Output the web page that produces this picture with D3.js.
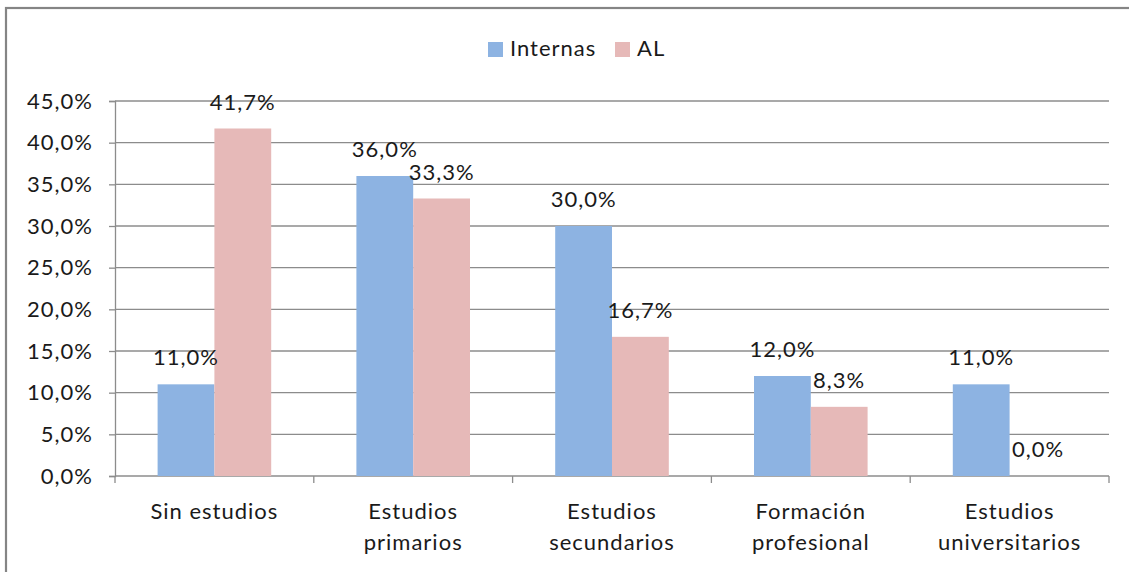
<!DOCTYPE html>
<html>
<head>
<meta charset="utf-8">
<script src="https://cdn.jsdelivr.net/npm/d3@7"></script>
<style>
  html, body { margin: 0; padding: 0; background: #fff; }
  svg { display: block; }
  text { font-family: "Lato", "Open Sans", sans-serif; fill: #1a1a1a; letter-spacing: 1px; }
</style>
</head>
<body>
<svg id="chart" width="1129" height="572"></svg>
<script>
// Education level of the two groups (percent)
const categories = [
  ["Sin estudios"],
  ["Estudios", "primarios"],
  ["Estudios", "secundarios"],
  ["Formación", "profesional"],
  ["Estudios", "universitarios"]
];
const seriesNames = ["Internas", "AL"];
const internas = [11.0, 36.0, 30.0, 12.0, 11.0];
const al = [41.7, 33.3, 16.7, 8.3, 0.0];
const yTicks = [0, 5, 10, 15, 20, 25, 30, 35, 40, 45];
const colors = ["#8db3e2", "#e6b9b8"];

const fmt = v => v.toFixed(1).replace(".", ",") + "%";
const FS = 22;

const svg = d3.select("#chart");
const W = 1129, H = 572;
const plot = { left: 115, right: 1109, top: 101, bottom: 476 };

// Outer chart frame
svg.append("rect")
  .attr("x", 6).attr("y", 8)
  .attr("width", W + 20).attr("height", H + 20)
  .attr("fill", "none").attr("stroke", "#858585").attr("stroke-width", 2.2);

const x0 = d3.scaleBand()
  .domain(d3.range(categories.length))
  .range([plot.left, plot.right])
  .paddingInner(0).paddingOuter(0);

// 150% gap between groups
const groupW = x0.bandwidth() / 3.5 * 2;
const x1 = d3.scaleBand()
  .domain(seriesNames)
  .range([0, groupW]);

const y = d3.scaleLinear().domain([0, 45]).range([plot.bottom, plot.top]);

// Horizontal gridlines
svg.append("g")
  .selectAll("line")
  .data(yTicks.filter(t => t > 0))
  .join("line")
  .attr("x1", plot.left).attr("x2", plot.right)
  .attr("y1", d => y(d)).attr("y2", d => y(d))
  .attr("stroke", "#8c8c8c").attr("stroke-width", 1.3);

// Y axis
const yAxis = svg.append("g")
  .attr("transform", `translate(${plot.left},0)`)
  .call(d3.axisLeft(y).tickValues(yTicks).tickFormat(fmt).tickSize(6).tickPadding(16));
yAxis.select(".domain").attr("stroke", "#8c8c8c").attr("stroke-width", 1.3);
yAxis.selectAll(".tick line").attr("stroke", "#8c8c8c").attr("stroke-width", 1.3);
yAxis.selectAll(".tick text")
  .attr("font-size", FS).attr("font-family", "Lato").attr("fill", "#1a1a1a");

// X axis baseline with boundary ticks
const xAxisG = svg.append("g");
xAxisG.append("line")
  .attr("x1", plot.left).attr("x2", plot.right)
  .attr("y1", plot.bottom).attr("y2", plot.bottom)
  .attr("stroke", "#8c8c8c").attr("stroke-width", 1.3);
const bounds = d3.range(categories.length + 1).map(i =>
  i < categories.length ? x0(i) : x0(categories.length - 1) + x0.bandwidth());
xAxisG.selectAll("line.tk")
  .data(bounds)
  .join("line").attr("class", "tk")
  .attr("x1", d => d).attr("x2", d => d)
  .attr("y1", plot.bottom).attr("y2", plot.bottom + 7)
  .attr("stroke", "#8c8c8c").attr("stroke-width", 1.3);

// Category labels
const catLabels = xAxisG.selectAll("text.cat")
  .data(categories)
  .join("text").attr("class", "cat")
  .attr("text-anchor", "middle")
  .attr("font-size", FS);
catLabels.each(function(lines, i) {
  const cx = x0(i) + x0.bandwidth() / 2;
  d3.select(this).selectAll("tspan")
    .data(lines)
    .join("tspan")
    .attr("x", cx)
    .attr("y", (d, j) => 519 + j * 31)
    .text(d => d);
});

// Bars
const data = categories.map((c, i) => ({ i, vals: [internas[i], al[i]] }));
const groups = svg.append("g").selectAll("g")
  .data(data)
  .join("g")
  .attr("transform", d => `translate(${x0(d.i) + (x0.bandwidth() - groupW) / 2},0)`);

groups.selectAll("rect")
  .data(d => d.vals.map((v, k) => ({ v, k })))
  .join("rect")
  .attr("x", d => x1(seriesNames[d.k]))
  .attr("width", x1.bandwidth())
  .attr("y", d => y(d.v))
  .attr("height", d => y(0) - y(d.v))
  .attr("fill", d => colors[d.k]);

// Value labels
groups.selectAll("text")
  .data(d => d.vals.map((v, k) => ({ v, k })))
  .join("text")
  .attr("x", d => x1(seriesNames[d.k]) + x1.bandwidth() / 2)
  .attr("y", d => y(d.v) - 19)
  .attr("text-anchor", "middle")
  .attr("font-size", FS)
  .text(d => fmt(d.v));

// Legend
const legend = svg.append("g").attr("transform", "translate(488,39)");
const legendItems = [
  { name: seriesNames[0], color: colors[0], x: 0 },
  { name: seriesNames[1], color: colors[1], x: 127 }
];
const li = legend.selectAll("g").data(legendItems).join("g")
  .attr("transform", d => `translate(${d.x},0)`);
li.append("rect").attr("x", 0).attr("y", 3).attr("width", 15).attr("height", 15)
  .attr("fill", d => d.color);
li.append("text").attr("x", 22).attr("y", 17).attr("font-size", FS).text(d => d.name);
</script>
</body>
</html>
